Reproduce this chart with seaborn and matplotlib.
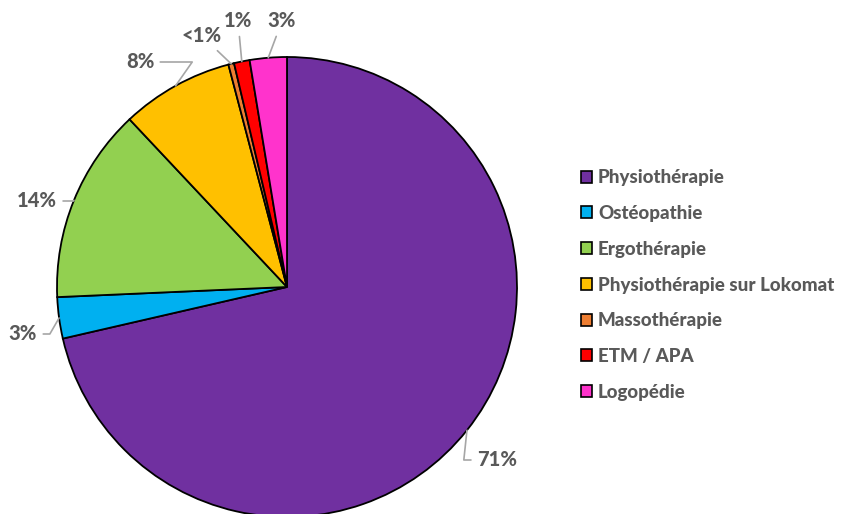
import numpy as np
import matplotlib
matplotlib.use("Agg")
import matplotlib.pyplot as plt
import seaborn as sns
from matplotlib.patches import Patch

# donnees
categories = ["Physiothérapie", "Ostéopathie", "Ergothérapie", "Physiothérapie sur Lokomat",
              "Massothérapie", "ETM / APA", "Logopédie"]
valeurs = [71.4, 2.9, 13.7, 7.9, 0.4, 1.1, 2.6]
etiquettes = ["71%", "3%", "14%", "8%", "<1%", "1%", "3%"]
couleurs = ["#7030A0", "#00B0F0", "#92D050", "#FFC000", "#ED7D31", "#FF0000", "#FF33CC"]

# position des etiquettes (pixels de l'image) et style de la ligne vers la part
pos_texte = [(497, 460), (23, 334), (37, 201), (140, 62), (202, 36), (238, 21), (282, 21)]
styles = ["angle,angleA=0,angleB=84,rad=0", "angle,angleA=0,angleB=60,rad=0",
          "angle,angleA=0,angleB=60,rad=0", "angle,angleA=0,angleB=55,rad=0",
          "arc3", "arc3", "arc3"]

sns.set_theme(style="white")
plt.rcParams['font.family'] = ['Lato', 'DejaVu Sans']

W, H = 847, 514
fig = plt.figure(figsize=(W / 100, H / 100), dpi=100)
cx, cy, r = 287, 287, 230
ax = fig.add_axes([(cx - r) / W, (H - cy - r) / H, 2 * r / W, 2 * r / H])

wedges, _ = ax.pie(valeurs, colors=sns.color_palette(couleurs), startangle=90, counterclock=False,
                   radius=1, wedgeprops=dict(edgecolor="black", linewidth=1.3))
ax.set_xlim(-1, 1)
ax.set_ylim(-1, 1)
ax.set_aspect("equal")
ax.axis("off")

# etiquettes avec lignes
for w, lab, (px, py), st in zip(wedges, etiquettes, pos_texte, styles):
    theta = np.deg2rad((w.theta1 + w.theta2) / 2)
    x0, y0 = np.cos(theta), np.sin(theta)
    tx, ty = (px - cx) / r, (cy - py) / r
    ax.annotate(lab, xy=(x0, y0), xytext=(tx, ty), ha="center", va="center",
                fontsize=14.5, fontweight="black", color="#595959", annotation_clip=False,
                arrowprops=dict(arrowstyle="-", color="#a6a6a6", lw=1.2, shrinkA=2, shrinkB=0,
                                connectionstyle=st))

# legende
handles = [Patch(facecolor=c, edgecolor="black", linewidth=1.2) for c in couleurs]
leg = fig.legend(handles, categories, loc="center left", bbox_to_anchor=(581 / W, 1 - 285 / H),
                 frameon=False, fontsize=13.5, borderpad=0, borderaxespad=0,
                 handlelength=0.6, handleheight=0.6, handletextpad=0.3, labelspacing=1.0)
for t in leg.get_texts():
    t.set_color("#595959")
    t.set_fontweight("black")

fig.savefig("out.png", dpi=100)
